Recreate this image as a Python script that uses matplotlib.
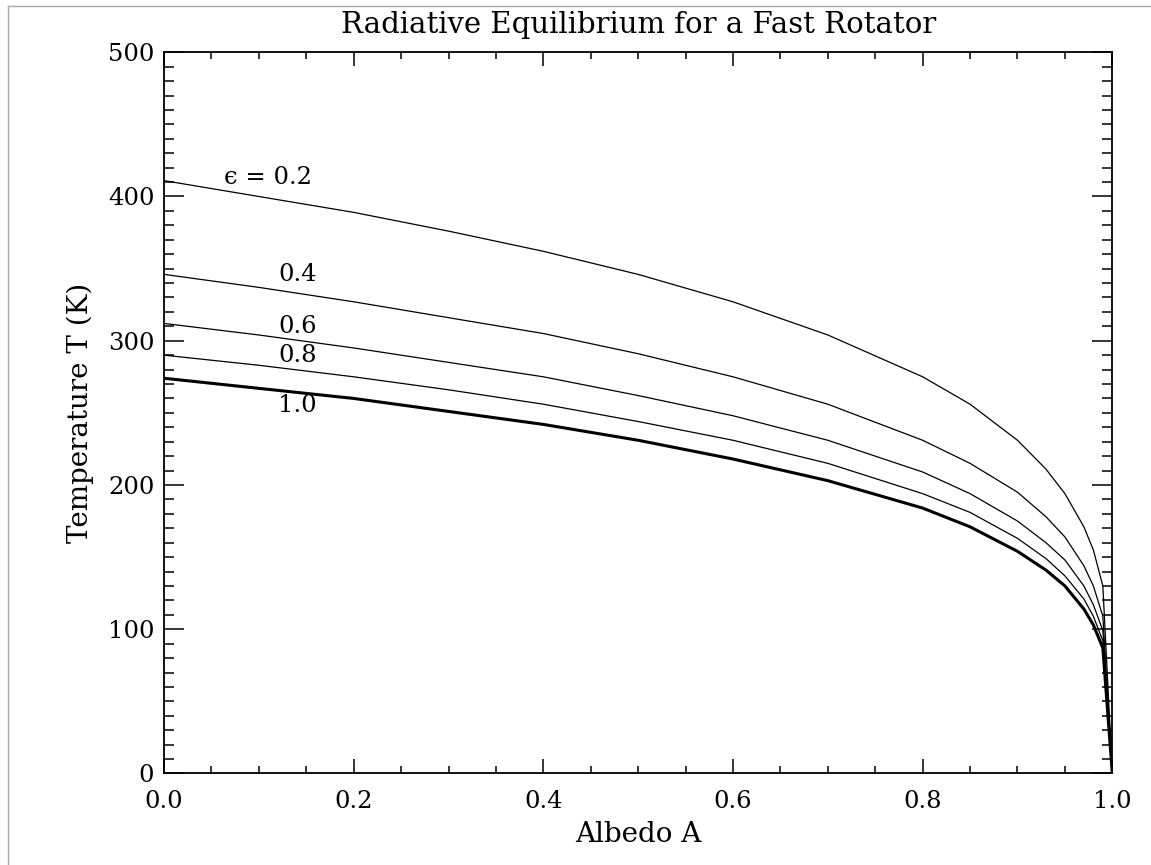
import numpy as np
from matplotlib import pyplot as plt
from matplotlib.lines import Line2D
from matplotlib.ticker import MultipleLocator

# albedo samples and temperatures
albedo = [0.0, 0.1, 0.2, 0.3, 0.4, 0.5, 0.6, 0.7, 0.8, 0.85, 0.9, 0.93, 0.95, 0.97, 0.98, 0.99, 1.0]

t_eps02 = [411, 400, 389, 376, 362, 346, 327, 304, 275, 256, 231, 211, 194, 171, 155, 130, 0]
t_eps04 = [346, 337, 327, 316, 305, 291, 275, 256, 231, 215, 195, 178, 164, 144, 130, 109, 0]
t_eps06 = [312, 304, 295, 285, 275, 262, 248, 231, 209, 194, 175, 160, 148, 130, 117, 99, 0]
t_eps08 = [290, 283, 275, 266, 256, 244, 231, 215, 194, 181, 163, 149, 137, 121, 109, 92, 0]
t_eps10 = [274, 267, 260, 251, 242, 231, 218, 203, 184, 171, 154, 141, 130, 114, 103, 87, 0]

curve_labels = ["\u03f5 = 0.2", "0.4", "0.6", "0.8", "1.0"]

plt.rcParams['font.family'] = ['DejaVu Serif']

fig = plt.figure(figsize=(11.51, 8.65), dpi=100)
ax = fig.add_axes([0.1425, 0.1058, 0.8239, 0.8338])

thin = dict(color='black', lw=0.9)
ax.plot(albedo, t_eps02, **thin)
ax.plot(albedo, t_eps04, **thin)
ax.plot(albedo, t_eps06, **thin)
ax.plot(albedo, t_eps08, **thin)
ax.plot(albedo, t_eps10, color='black', lw=2.2)

# curve labels, right-aligned like in the original
lab_pos = [(0.1558, 413), (0.161, 346), (0.161, 310), (0.161, 290), (0.161, 255)]
for txt, (x, y) in zip(curve_labels, lab_pos):
    ax.text(x, y, txt, ha='right', va='center', fontsize=17.5)

ax.set_xlim(0, 1.0)
ax.set_ylim(0, 500)
ax.xaxis.set_major_locator(MultipleLocator(0.2))
ax.xaxis.set_minor_locator(MultipleLocator(0.05))
ax.yaxis.set_major_locator(MultipleLocator(100))
ax.yaxis.set_minor_locator(MultipleLocator(10))
ax.xaxis.set_major_formatter(lambda v, p: "%.1f" % v)

ax.tick_params(axis='both', which='both', direction='in', top=True, right=True, width=1.1, labelsize=17.5)
ax.tick_params(axis='x', which='major', length=10, pad=12)
ax.tick_params(axis='x', which='minor', length=5)
ax.tick_params(axis='y', which='major', length=14.4, pad=7)
ax.tick_params(axis='y', which='minor', length=7.2)
for s in ax.spines.values():
    s.set_linewidth(1.3)

ax.set_title("Radiative Equilibrium for a Fast Rotator", fontsize=21, pad=14)
ax.set_xlabel("Albedo A", fontsize=20, labelpad=6)
ax.set_ylabel("Temperature T (K)", fontsize=20, labelpad=10)

# thin gray frame at top and left of the original screenshot
fig.add_artist(Line2D([8 / 1151, 1], [1 - 6 / 865, 1 - 6 / 865], color='#a8a8a8', lw=1))
fig.add_artist(Line2D([8 / 1151, 8 / 1151], [0, 1 - 6 / 865], color='#a8a8a8', lw=1))

fig.savefig("out.png", dpi=100)
